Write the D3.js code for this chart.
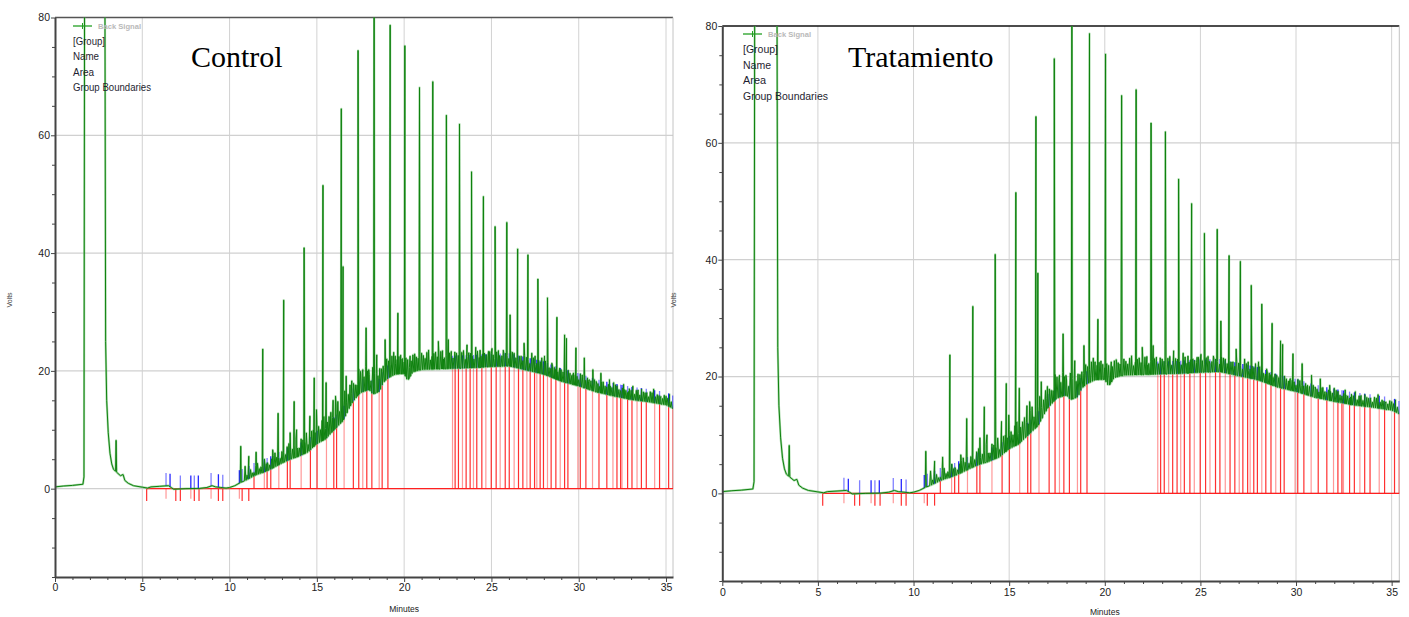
<!DOCTYPE html>
<html lang="es">
<head>
<meta charset="utf-8">
<title>Cromatogramas: Control / Tratamiento</title>
<script src="https://d3js.org/d3.v7.min.js"></script>
<style>
  body { margin: 0; background: #fff; }
  svg { display: block; }
  .axis text { font-family: "Liberation Sans", Arial, sans-serif; font-size: 10.5px; fill: #222; }
  .axis path.domain { stroke: #444; stroke-width: 2; }
  .axis line { stroke: #444; }
</style>
</head>
<body>
<svg id="chart" width="1409" height="617"></svg>
<script>
// smooth part of the signal (minutes, volts), incl. solvent front
const baseTimes = [0, 0.5, 1.0, 1.6, 1.66, 1.7, 2.85, 2.9, 2.96, 3.05, 3.15, 3.25, 3.35, 3.45, 3.6, 3.75, 3.9, 4.0, 4.2, 4.5,
  5.0, 5.3, 5.5, 6.0, 6.5, 6.65, 6.8, 7.5, 8.3, 8.7, 9.0, 9.2, 9.5, 9.8, 10.0, 10.3, 10.6, 11.0, 11.5, 12.0,
  12.5, 13.0, 13.5, 14.0, 14.5, 15.0, 15.5, 16.0, 16.5, 17.0, 17.5, 18.0, 18.2, 18.6, 18.8, 19.1, 19.5, 20.0, 20.2, 20.5,
  21, 22, 23, 24, 25, 26, 27, 28, 29, 30, 31, 32, 33, 34, 35, 35.4];
const baseVolts = [0.3, 0.45, 0.55, 0.75, 2, 100, 100, 25, 15, 9.5, 6, 4.2, 3.3, 3.0, 2.6, 2.2, 2.4, 1.4, 0.9, 0.5,
  0.25, 0.1, 0.3, 0.4, 0.5, 0.2, -0.1, 0, 0.05, 0.2, 0.5, 0.3, 0.2, 0.1, 0.2, 0.5, 1.0, 1.5, 2.3, 2.8,
  3.5, 4.3, 5.0, 5.5, 6.2, 7.6, 8.4, 10, 11.5, 14.5, 16.3, 16.8, 16, 16.5, 18, 18.8, 19.4, 19.5, 18.3, 19.8,
  20.2, 20.3, 20.4, 20.5, 20.7, 20.8, 20.1, 19.4, 18.2, 17.4, 16.4, 15.7, 15.1, 14.7, 14.2, 13.6];

// main peaks: retention time and apex (volts)
const peakTimes = [3.5, 10.64, 11.9, 12.78, 13.1, 13.7, 14.27, 14.85, 15.35, 16.4, 16.5, 17.36, 17.82, 18.28, 18.91, 19.2,
  19.64, 20.04, 20.88, 21.64, 22.42, 23.17, 23.86, 24.54, 25.21, 25.88, 26.07, 26.5, 27.09, 27.66, 28.21, 28.75,
  29.19, 29.3, 29.84, 30.32, 30.81, 31.27, 31.76, 32.0, 32.57, 33.1, 33.6, 34.29, 35.2];
const peakVolts = [8.2, 7.2, 23.7, 12.8, 32, 14.8, 40.9, 18.8, 51.5, 64.5, 37.7, 74.4, 27.3, 84, 25.3, 78.7,
  29.8, 75.2, 68.1, 69.1, 63.4, 61.9, 53.8, 49.6, 44.5, 45.2, 29.5, 40.7, 39.7, 35.6, 32.4, 29.1,
  26.1, 25.5, 23.9, 22.2, 20.2, 19.6, 18.5, 18, 17.7, 17.4, 16.9, 16.9, 16.0];

// smaller spikes
const minorTimes = [10.89, 11.1, 11.52, 12.17, 12.47, 13.47, 13.84, 14.6, 14.98, 15.53, 15.93, 16.07, 16.68, 16.97, 17.63,
  17.97, 18.43, 19.49, 19.87, 20.34, 20.63, 21.1, 21.39, 21.96, 22.25, 22.53, 22.7, 22.9, 23.6, 24.1, 24.35, 24.83,
  25.03, 25.46, 25.68, 26.3, 26.7, 26.87, 27.31, 27.5, 27.88, 28.04, 28.46, 28.65, 28.97, 29.5, 29.66, 30.09, 30.56,
  31.04, 31.51, 32.18, 32.85, 33.38, 33.9, 34.66];
const minorVolts = [3.8, 5.5, 6.2, 4.4, 6.6, 9.5, 10, 12.3, 13.4, 18, 15, 15.7, 19.1, 16.2, 20.2,
  20.2, 22.7, 22.5, 22, 22.5, 22, 22.5, 22, 25, 22, 25.3, 23.3, 23, 24.4, 24, 23.5, 23.3,
  23.8, 22.6, 23.5, 23, 22.5, 24.7, 23, 22.5, 22.2, 22.5, 21.3, 20.2, 20.2, 19.6, 19.3, 18.8, 18.2,
  17.7, 17.4, 17.4, 16.5, 16.5, 16.3, 15.4];

// noise ripple on top of the smooth part (height above it, volts)
const rippleTimes = [11.0, 11.2, 11.4, 11.6, 11.8, 12.0, 12.2, 12.4, 12.6, 12.8,
  13.0, 13.2, 13.4, 13.6, 13.8, 14.0, 14.2, 14.4, 14.6, 14.8,
  15.0, 15.2, 15.4, 15.6, 15.8, 16.0, 16.2, 16.4, 16.6, 16.8,
  17.0, 17.2, 17.4, 17.6, 17.8, 18.0, 18.2, 18.4, 18.6, 18.8,
  19.0, 19.2, 19.4, 19.6, 19.8, 20.0, 20.2, 20.4, 20.6, 20.8,
  21.0, 21.2, 21.4, 21.6, 21.8, 22.0, 22.2, 22.4, 22.6, 22.8,
  23.0, 23.2, 23.4, 23.6, 23.8, 24.0, 24.2, 24.4, 24.6, 24.8,
  25.0, 25.2, 25.4, 25.6, 25.8, 26.0, 26.2, 26.4, 26.6, 26.8,
  27.0, 27.2, 27.4, 27.6, 27.8, 28.0, 28.2, 28.4, 28.6, 28.8,
  29.0, 29.2, 29.4, 29.6, 29.8, 30.0, 30.2, 30.4, 30.6, 30.8,
  31.0, 31.2, 31.4, 31.6, 31.8, 32.0, 32.2, 32.4, 32.6, 32.8,
  33.0, 33.2, 33.4, 33.6, 33.8, 34.0, 34.2, 34.4, 34.6, 34.8,
  35.0, 35.2];
const rippleHeights = [0.8, 1.4, 0.6, 1.9, 1.1, 2.2, 1.0, 1.7, 2.4, 1.3,
  2.0, 1.2, 2.8, 1.6, 3.1, 1.4, 2.5, 3.4, 1.8, 2.9,
  3.3, 2.1, 4.0, 2.6, 3.6, 1.9, 4.2, 3.0, 4.5, 2.7,
  3.8, 2.4, 4.4, 3.1, 4.1, 2.6, 4.6, 3.3, 3.9, 2.8,
  3.5, 2.2, 3.9, 2.5, 3.2, 2.0, 3.6, 2.4, 3.0, 2.1,
  2.8, 1.9, 3.3, 2.2, 2.9, 1.7, 3.1, 2.3, 2.7, 1.8,
  2.6, 1.6, 3.0, 2.0, 2.5, 1.5, 2.8, 1.9, 2.4, 1.7,
  2.3, 1.4, 2.7, 1.8, 2.2, 1.3, 2.5, 1.7, 2.1, 1.5,
  2.2, 1.3, 2.4, 1.6, 2.0, 1.2, 2.3, 1.5, 1.9, 1.4,
  2.0, 1.2, 2.2, 1.5, 1.8, 1.1, 2.1, 1.4, 1.7, 1.2,
  1.8, 1.1, 2.0, 1.3, 1.6, 1.0, 1.9, 1.2, 1.5, 1.1,
  1.6, 1.0, 1.8, 1.2, 1.5, 0.9, 1.7, 1.1, 1.4, 1.0,
  1.5, 0.9];
const rippleTimes2 = [11.1, 11.3, 11.5, 11.7, 11.9, 12.1, 12.3, 12.5, 12.7, 12.9,
  13.1, 13.3, 13.5, 13.7, 13.9, 14.1, 14.3, 14.5, 14.7, 14.9,
  15.1, 15.3, 15.5, 15.7, 15.9, 16.1, 16.3, 16.5, 16.7, 16.9,
  17.1, 17.3, 17.5, 17.7, 17.9, 18.1, 18.3, 18.5, 18.7, 18.9,
  19.1, 19.3, 19.5, 19.7, 19.9, 20.1, 20.3, 20.5, 20.7, 20.9,
  21.1, 21.3, 21.5, 21.7, 21.9, 22.1, 22.3, 22.5, 22.7, 22.9,
  23.1, 23.3, 23.5, 23.7, 23.9, 24.1, 24.3, 24.5, 24.7, 24.9,
  25.1, 25.3, 25.5, 25.7, 25.9, 26.1, 26.3, 26.5, 26.7, 26.9,
  27.1, 27.3, 27.5, 27.7, 27.9, 28.1, 28.3, 28.5, 28.7, 28.9,
  29.1, 29.3, 29.5, 29.7, 29.9, 30.1, 30.3, 30.5, 30.7, 30.9,
  31.1, 31.3, 31.5, 31.7, 31.9, 32.1, 32.3, 32.5, 32.7, 32.9,
  33.1, 33.3, 33.5, 33.7, 33.9, 34.1, 34.3, 34.5, 34.7, 34.9,
  35.1, 35.3];
const rippleHeights2 = [1.2, 0.7, 1.6, 0.9, 2.0, 1.3, 0.8, 2.1, 1.5, 1.0,
  1.7, 2.4, 1.1, 2.2, 1.5, 2.8, 1.9, 1.3, 3.0, 2.2,
  2.8, 3.5, 1.8, 3.2, 2.4, 3.9, 2.2, 3.4, 2.0, 3.7,
  3.0, 2.0, 3.6, 2.5, 3.3, 1.9, 3.5, 2.8, 3.1, 2.3,
  2.9, 3.4, 1.9, 3.0, 2.6, 3.3, 1.8, 2.9, 2.4, 3.2,
  2.4, 2.9, 1.6, 2.7, 2.1, 3.0, 1.9, 2.5, 2.2, 2.8,
  2.2, 2.7, 1.5, 2.6, 2.0, 2.8, 1.7, 2.3, 2.1, 2.6,
  2.0, 2.5, 1.4, 2.4, 1.8, 2.6, 1.6, 2.2, 1.9, 2.4,
  1.9, 2.3, 1.3, 2.2, 1.7, 2.4, 1.5, 2.0, 1.8, 2.1,
  1.7, 2.1, 1.2, 2.0, 1.6, 2.2, 1.4, 1.9, 1.6, 2.0,
  1.5, 1.9, 1.1, 1.8, 1.4, 2.0, 1.3, 1.7, 1.4, 1.8,
  1.4, 1.7, 1.0, 1.6, 1.3, 1.8, 1.2, 1.5, 1.3, 1.6,
  1.3, 1.0];

// integration marks
const dropTimes = [5.25, 6.36, 6.92, 7.18, 7.78, 7.98, 8.25, 8.94, 9.36, 9.61, 10.56, 10.72, 11.1];
const riseTimes = [11.4, 11.99, 12.15, 12.36, 12.82, 13.31, 13.47, 14.1, 14.63, 15.01, 15.55, 15.97, 16.13, 16.56,
  17.09, 17.4, 17.63, 17.86, 18.15, 18.57, 18.74, 19.07, 22.77, 22.92, 23.11, 23.34, 23.55, 23.78, 23.97, 24.16,
  24.45, 24.68, 24.99, 25.27, 25.5, 25.79, 26.02, 26.3, 26.55, 26.8, 27.03, 27.22, 27.47, 27.6, 27.79, 27.98,
  28.21, 28.42, 28.69, 28.94, 29.19, 29.38, 29.95, 30.09, 30.41, 30.79, 31.16, 31.61, 31.96, 32.19, 32.4, 32.48,
  32.8, 33.05, 33.34, 33.59, 33.87, 34.35, 34.63, 35.15, 35.38];
const blueTimes = [6.36, 6.59, 7.18, 7.78, 7.98, 8.21, 8.94, 9.36, 9.61, 10.56, 10.72, 11.1].concat(riseTimes);

const xTicks = [0, 5, 10, 15, 20, 25, 30, 35];
const xMinor = [1, 2, 3, 4, 6, 7, 8, 9, 11, 12, 13, 14, 16, 17, 18, 19, 21, 22, 23, 24, 26, 27, 28, 29, 31, 32, 33, 34];
const yTicks = [0, 20, 40, 60, 80];
const yMinor = [-15, -10, -5, 5, 10, 15, 25, 30, 35, 45, 50, 55, 65, 70, 75];
const legendItems = ["[Group]", "Name", "Area", "Group Boundaries"];

const panels = [
  { id: "ctl", title: "Control", left: 55, right: 673, top: 17.5, bottom: 577,
    titleX: 191, titleY: 67, legX: 73, legY: 26, legStep: 15.3, legW: [32, 26, 21, 78],
    voltsX: 12, minutesY: 612, labelDy: 14, topStroke: "#555" },
  { id: "trt", title: "Tratamiento", left: 722.3, right: 1399.3, top: 26, bottom: 581,
    titleX: 848, titleY: 67, legX: 743, legY: 34, legStep: 15.5, legW: [35, 28, 23, 85],
    voltsX: 676, minutesY: 615, labelDy: 15, topStroke: "#111" }
];

const svg = d3.select("#chart");
const base = d3.scaleLinear().domain(baseTimes).range(baseVolts).clamp(true);

// signal = smooth part + narrow spikes
function signalPoints() {
  const spikes = [];
  peakTimes.forEach((t, i) => spikes.push({ t, v: peakVolts[i], w: 0.03 }));
  minorTimes.forEach((t, i) => spikes.push({ t, v: minorVolts[i], w: 0.045 }));
  rippleTimes.forEach((t, i) => spikes.push({ t, v: base(t) + rippleHeights[i], w: 0.05 }));
  rippleTimes2.forEach((t, i) => spikes.push({ t, v: base(t) + rippleHeights2[i], w: 0.05 }));
  const pts = baseTimes
    .filter(t => !spikes.some(s => Math.abs(t - s.t) < s.w))
    .map(t => [t, base(t)]);
  spikes.forEach(s => {
    pts.push([s.t - s.w, base(s.t - s.w)], [s.t, s.v], [s.t + s.w, base(s.t + s.w)]);
  });
  return pts.sort((a, b) => a[0] - b[0]);
}
const signal = signalPoints();

function drawPanel(p) {
  const x = d3.scaleLinear().domain([0, 35.4]).range([p.left, p.right]);
  const y = d3.scaleLinear().domain([-15, 80]).range([p.bottom, p.top]);
  const g = svg.append("g");

  svg.append("clipPath").attr("id", "clip-" + p.id)
    .append("rect")
    .attr("x", p.left).attr("y", p.top)
    .attr("width", p.right - p.left).attr("height", p.bottom - p.top);

  // grid
  g.selectAll(".vgrid").data(xTicks.slice(1)).join("line")
    .attr("x1", d => x(d)).attr("x2", d => x(d))
    .attr("y1", p.top).attr("y2", p.bottom)
    .attr("stroke", "#d2d2d2").attr("stroke-width", 1);
  g.selectAll(".hgrid").data(yTicks.slice(0, -1)).join("line")
    .attr("x1", p.left).attr("x2", p.right)
    .attr("y1", d => y(d)).attr("y2", d => y(d))
    .attr("stroke", "#d0d0d0").attr("stroke-width", 1.2);

  // border top / right
  g.append("line").attr("x1", p.left).attr("x2", p.right).attr("y1", p.top).attr("y2", p.top)
    .attr("stroke", p.topStroke).attr("stroke-width", 1.5);
  g.append("line").attr("x1", p.right).attr("x2", p.right).attr("y1", p.top).attr("y2", p.bottom)
    .attr("stroke", "#c4c4c4").attr("stroke-width", 1);

  // red integration baseline and marks
  g.append("line")
    .attr("x1", x(dropTimes[0])).attr("x2", x(35.4))
    .attr("y1", y(0)).attr("y2", y(0))
    .attr("stroke", "#ff2020").attr("stroke-width", 1.4);
  g.selectAll(".drop").data(dropTimes).join("line")
    .attr("x1", d => x(d)).attr("x2", d => x(d))
    .attr("y1", y(0)).attr("y2", (d, i) => y(i % 3 === 1 ? -1.7 : -2.1))
    .attr("stroke", "#ff1a1a").attr("stroke-opacity", (d, i) => i % 3 === 1 ? 0.45 : 0.9)
    .attr("stroke-width", 1.2);
  g.selectAll(".rise").data(riseTimes).join("line")
    .attr("x1", d => x(d)).attr("x2", d => x(d))
    .attr("y1", y(0)).attr("y2", d => y(base(d)))
    .attr("stroke", "#ff1a1a").attr("stroke-opacity", (d, i) => i % 3 === 1 ? 0.45 : 0.9)
    .attr("stroke-width", 1.2);

  const line = d3.line().x(d => x(d[0])).y(d => y(d[1]));
  // light halo of the trace
  g.append("path")
    .attr("d", line(signal))
    .attr("clip-path", "url(#clip-" + p.id + ")")
    .attr("fill", "none")
    .attr("stroke", "#6fbf6f")
    .attr("stroke-opacity", 0.6)
    .attr("stroke-width", 2.2)
    .attr("stroke-linejoin", "round");

  // blue boundary ticks
  g.selectAll(".blue").data(blueTimes).join("line")
    .attr("x1", d => x(d)).attr("x2", d => x(d))
    .attr("y1", d => y(Math.max(base(d), 0.05)))
    .attr("y2", d => y(Math.max(base(d), 0.05) + 2.2))
    .attr("stroke", "#1a1aff").attr("stroke-opacity", (d, i) => i % 2 === 0 ? 0.55 : 0.95)
    .attr("stroke-width", 1.3);

  // trace
  g.append("path")
    .attr("d", line(signal))
    .attr("clip-path", "url(#clip-" + p.id + ")")
    .attr("fill", "none")
    .attr("stroke", "#0f820f")
    .attr("stroke-width", 1)
    .attr("stroke-linejoin", "round");

  // axes
  const ax = g.append("g").attr("class", "axis")
    .attr("transform", `translate(0,${p.bottom})`)
    .call(d3.axisBottom(x).tickValues(xTicks).tickSize(5).tickSizeOuter(0));
  ax.selectAll("text").attr("dy", null).attr("y", p.labelDy);
  g.append("g").attr("class", "axis")
    .attr("transform", `translate(0,${p.bottom})`)
    .call(d3.axisBottom(x).tickValues(xMinor).tickSize(3).tickFormat(""))
    .select(".domain").remove();

  const ay = g.append("g").attr("class", "axis")
    .attr("transform", `translate(${p.left},0)`)
    .call(d3.axisLeft(y).tickValues(yTicks).tickSize(4).tickSizeOuter(0));
  ay.selectAll("text").attr("x", -5);
  g.append("g").attr("class", "axis")
    .attr("transform", `translate(${p.left},0)`)
    .call(d3.axisLeft(y).tickValues(yMinor).tickSize(3).tickFormat(""))
    .select(".domain").remove();

  // axis titles
  g.append("text")
    .attr("x", x(20)).attr("y", p.minutesY)
    .attr("text-anchor", "middle")
    .attr("font-family", "Liberation Sans, Arial, sans-serif")
    .attr("font-size", 8.5).attr("fill", "#222")
    .text("Minutes");
  g.append("text")
    .attr("transform", `translate(${p.voltsX},${300}) rotate(-90)`)
    .attr("text-anchor", "middle")
    .attr("font-family", "Liberation Sans, Arial, sans-serif")
    .attr("font-size", 7).attr("fill", "#444")
    .text("Volts");

  // legend
  g.append("line")
    .attr("x1", p.legX).attr("x2", p.legX + 19)
    .attr("y1", p.legY).attr("y2", p.legY)
    .attr("stroke", "#22a022").attr("stroke-width", 1.3);
  g.append("line")
    .attr("x1", p.legX + 9.5).attr("x2", p.legX + 9.5)
    .attr("y1", p.legY - 3).attr("y2", p.legY + 3)
    .attr("stroke", "#22a022").attr("stroke-width", 1);
  g.append("text")
    .attr("x", p.legX + 25).attr("y", p.legY + 3)
    .attr("font-family", "Liberation Sans, Arial, sans-serif")
    .attr("font-size", 8).attr("font-weight", "bold").attr("fill", "#b9b9b9")
    .attr("textLength", 43).attr("lengthAdjust", "spacingAndGlyphs")
    .text("Back Signal");
  g.selectAll(".leg").data(legendItems).join("text")
    .attr("x", p.legX)
    .attr("y", (d, i) => p.legY + 19 + i * p.legStep)
    .attr("font-family", "Liberation Sans, Arial, sans-serif")
    .attr("font-size", 11.5).attr("fill", "#1e1e30")
    .attr("textLength", (d, i) => p.legW[i]).attr("lengthAdjust", "spacingAndGlyphs")
    .text(d => d);

  // title
  g.append("text")
    .attr("x", p.titleX).attr("y", p.titleY)
    .attr("font-family", "Liberation Serif, 'Times New Roman', serif")
    .attr("font-size", 30).attr("fill", "#000")
    .text(p.title);
}

panels.forEach(drawPanel);
</script>
</body>
</html>
